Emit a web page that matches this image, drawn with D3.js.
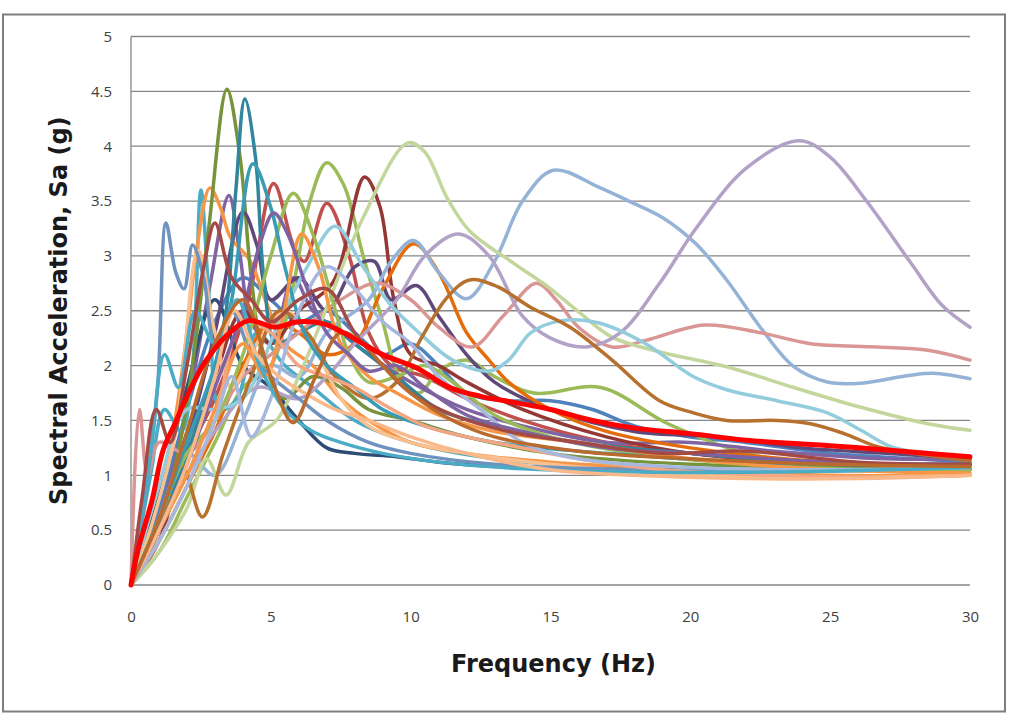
<!DOCTYPE html>
<html><head><meta charset="utf-8">
<script src="https://cdn.jsdelivr.net/npm/d3@7"></script>
<style>
html,body{margin:0;padding:0;background:#fff;}
svg{display:block;}
</style></head>
<body>
<svg id="chart" width="1011" height="722"></svg>
<script>
// ---- data (frequency Hz, Sa g) ----
const xTicks = [0,5,10,15,20,25,30];
const yTicks = [0,0.5,1,1.5,2,2.5,3,3.5,4,4.5,5];
const xTitle = "Frequency (Hz)";
const yTitle = "Spectral Acceleration, Sa (g)";

const sBlue = [[0,0],[1,0.7],[2,1.6],[3,2.4],[4,2.8],[5,2.6],[6,2.4],[7,2.5],[8,2.3],[9,2.1],[10,2.2],[11,2.0],[12,1.75],[13.5,1.68],[15,1.68],[16.5,1.6],[18,1.45],[20,1.35],[22,1.3],[25,1.2],[28,1.15],[30,1.12]];
const sRed = [[0,0],[1,0.6],[2,1.2],[3,1.7],[4.2,2.6],[5.1,3.66],[5.8,3.1],[6.2,2.95],[7.0,3.48],[7.8,3.0],[8.5,2.3],[9.3,2.0],[10.5,1.9],[12,1.7],[14,1.5],[17,1.3],[20,1.2],[25,1.1],[30,1.05]];
const sGreen = [[0,0],[1,0.3],[2,0.8],[3,1.3],[4,1.8],[5,2.0],[5.7,2.6],[6.4,3.5],[7.0,3.85],[7.6,3.65],[8.3,3.0],[9,2.4],[9.6,1.9],[10.3,1.75],[11,1.95],[12,2.05],[13,1.9],[14.4,1.75],[16.8,1.8],[19.2,1.47],[22,1.2],[25,1.1],[30,1.05]];
const sPurple = [[0,0],[1,0.6],[2,1.6],[2.8,2.7],[3.5,3.55],[3.9,3.0],[4.3,2.4],[5,2.2],[5.8,2.8],[6.5,2.5],[7.5,2.3],[8.5,2.1],[10,1.85],[12,1.6],[14,1.45],[17,1.3],[20,1.3],[23,1.22],[27,1.15],[30,1.15]];
const sAqua = [[0,0],[0.7,1.0],[1.2,1.6],[1.8,1.4],[2.2,2.0],[2.5,3.6],[2.8,2.6],[3.2,1.6],[3.8,1.7],[4.5,2.3],[5.5,2.0],[6.5,1.8],[8,1.5],[10,1.3],[13,1.15],[18,1.07],[25,1.05],[30,1.05]];
const sOrange = [[0,0],[0.8,0.7],[1.5,1.4],[2,2.3],[2.36,3.08],[2.82,3.62],[3.2,3.44],[3.55,3.17],[4.25,2.96],[4.8,2.6],[5.5,2.2],[6.5,2.0],[7.5,1.7],[8.5,1.5],[10,1.3],[12,1.2],[15,1.12],[20,1.05],[25,1.0],[30,1.0]];
const sDarkBlue = [[0,0],[1,0.8],[2,1.8],[3,2.6],[4,2.0],[5,1.8],[6,1.5],[7,1.25],[8,1.2],[9.5,1.17],[11,1.12],[14,1.07],[18,1.05],[22,1.05],[26,1.07],[30,1.1]];
const sDarkRed = [[0,0],[1,0.4],[2,1.3],[3,1.9],[4,2.5],[5,2.2],[6,2.5],[7.2,2.75],[8.35,3.72],[8.9,3.45],[9.4,2.6],[10,2.1],[11,2.0],[12,1.85],[14,1.6],[17,1.35],[20,1.2],[25,1.1],[30,1.05]];
const sDarkGreen = [[0,0],[0.8,0.4],[1.6,1.1],[2.2,2.0],[2.8,3.3],[3.43,4.52],[3.9,3.9],[4.3,2.8],[4.8,2.0],[5.5,1.7],[6.5,1.9],[7.5,1.8],[8.5,1.6],[10,1.5],[12,1.35],[15,1.2],[20,1.1],[25,1.08],[30,1.1]];
const sDarkPurple = [[0,0],[1,0.5],[2,1.3],[3,2.3],[4,3.4],[4.5,3.1],[5,2.6],[6,2.8],[7,2.5],[8,2.9],[8.7,2.95],[9.3,2.6],[10.2,2.73],[11,2.45],[12,2.1],[13,1.85],[15,1.6],[18,1.4],[21,1.35],[24,1.25],[27,1.2],[30,1.15]];
const sDarkTeal = [[0,0],[1,0.5],[2,1.2],[2.8,1.8],[3.4,2.5],[3.75,3.6],[4.07,4.43],[4.45,3.9],[4.75,2.8],[5.2,2.2],[6,2.3],[7,2.4],[8,2.2],[9.5,1.9],[11,1.6],[13,1.45],[16,1.3],[20,1.2],[25,1.1],[30,1.1]];
const sDarkOrange = [[0,0],[1,0.4],[2,0.9],[3,1.4],[4,2.0],[5,2.4],[6,2.3],[7,2.1],[8,2.2],[9,2.7],[10.1,3.11],[11,2.85],[12,2.3],[12.8,2.05],[13.5,1.85],[15,1.6],[17,1.4],[20,1.25],[25,1.12],[30,1.1]];
const sLightBlue = [[0,0],[1,0.6],[2,1.2],[3,1.0],[4,1.5],[5,2.0],[6,1.9],[7,2.3],[8.5,2.6],[9.3,2.95],[10.1,3.14],[11,2.85],[12,2.61],[13,2.95],[14,3.5],[15.1,3.78],[16.7,3.63],[17.8,3.5],[19,3.35],[20.2,3.11],[21.3,2.78],[22.5,2.35],[23.7,1.99],[24.9,1.85],[26.1,1.84],[27.8,1.91],[28.7,1.93],[30,1.88]];
const sPink = [[0,0],[0.3,1.6],[0.6,1.0],[1,1.3],[2,1.2],[3,1.5],[4,1.9],[5,2.1],[6,2.3],[7.5,2.6],[8.8,2.75],[10,2.6],[11,2.35],[12.2,2.17],[13.3,2.45],[14.5,2.75],[15.2,2.6],[16,2.35],[17.2,2.17],[18.4,2.23],[20.5,2.37],[22.5,2.3],[24.3,2.2],[26.7,2.17],[28.5,2.14],[30,2.05]];
const sLightGreen = [[0,0],[1,0.3],[2,0.7],[2.7,1.15],[3.4,0.82],[4.2,1.3],[5.2,1.5],[6.0,1.9],[6.8,2.4],[8.3,3.35],[9.9,4.03],[10.5,3.95],[11.3,3.53],[12.1,3.23],[13.7,2.93],[14.9,2.72],[16.05,2.48],[17.2,2.26],[19,2.12],[21.3,1.99],[23.7,1.8],[26.1,1.62],[28.5,1.47],[30,1.41]];
const sLightPurple = [[0,0],[1,0.5],[2,1.0],[3,1.4],[4.5,1.8],[6,1.7],[7,1.9],[8,2.2],[9.5,2.6],[10.5,3.0],[11.7,3.2],[12.8,3.0],[14,2.45],[15,2.25],[16.3,2.17],[17.5,2.3],[18.9,2.75],[20.2,3.25],[22,3.8],[23.9,4.05],[25,3.9],[26.3,3.5],[27.9,2.93],[29,2.55],[30,2.35]];
const sLightAqua = [[0,0],[1,0.9],[2,1.6],[3,1.6],[4,1.7],[5.3,2.4],[6.3,2.9],[7.3,3.27],[8.3,2.9],[9.3,2.55],[10.3,2.3],[11.5,2.05],[12.8,1.95],[13.5,2.05],[14.3,2.3],[15.4,2.41],[16.7,2.39],[18.4,2.2],[20.1,1.9],[21.3,1.78],[23.1,1.68],[24.9,1.57],[26.1,1.41],[27.2,1.26],[28.5,1.2],[30,1.17]];
const sSalmon = [[0,0],[0.8,0.6],[1.6,1.4],[2.4,3.05],[3,2.3],[3.6,1.8],[4.5,2.2],[5.5,2.5],[6.5,2.2],[7.5,1.7],[8.5,1.45],[10,1.3],[12,1.2],[15,1.1],[20,1.0],[25,0.98],[30,1.0]];
const sMidBlue = [[0,0],[0.5,0.8],[0.95,1.8],[1.25,3.3],[1.6,2.85],[1.9,2.7],[2.2,3.1],[2.6,2.8],[3.0,2.2],[3.6,2.5],[4.3,2.1],[5,1.9],[6,1.7],[7,1.5],[8.5,1.3],[10,1.2],[13,1.1],[18,1.05],[25,1.04],[30,1.05]];
const sBrown = [[0,0],[1,0.5],[1.8,1.1],[2.55,0.62],[3.3,1.2],[4.3,1.9],[5.3,2.5],[6.3,2.3],[7.3,1.9],[8.5,1.7],[9.5,1.85],[10.4,2.26],[11.3,2.62],[12.1,2.78],[13.1,2.72],[14.3,2.53],[15.7,2.35],[17.2,2.05],[18.9,1.68],[20.1,1.57],[21.3,1.5],[23.1,1.5],[24.3,1.47],[25.5,1.38],[26.7,1.26],[28,1.2],[30,1.13]];
const sGreen2 = [[0,0],[1,0.6],[2,1.2],[3,1.5],[4,2.1],[5,3.0],[5.8,3.57],[6.5,3.2],[7.2,2.6],[7.8,2.1],[8.5,1.85],[9.5,1.9],[10.5,2.0],[11.5,1.85],[13,1.55],[15,1.35],[18,1.2],[22,1.1],[26,1.05],[30,1.05]];
const sTeal2 = [[0,0],[1,0.6],[2,1.3],[3,2.0],[3.6,2.6],[4.36,3.84],[5.0,3.44],[5.5,2.9],[6.2,2.3],[7,2.0],[8,1.8],[9,1.6],[10.5,1.45],[13,1.3],[17,1.2],[22,1.12],[30,1.1]];
const sOrange2 = [[0,0],[1,0.5],[2,1.0],[3,1.6],[4,2.2],[4.8,1.9],[5.4,2.4],[6.1,3.2],[6.7,2.9],[7.5,2.2],[8.5,1.9],[9.5,1.75],[11,1.55],[13,1.4],[16,1.3],[20,1.15],[25,1.05],[30,1.02]];
const sSalmon2 = [[0,0],[1,0.4],[2,0.9],[3,1.5],[4,2.4],[5,2.3],[6,2.0],[7,1.9],[8,1.8],[9,1.65],[10.5,1.45],[12,1.35],[14,1.25],[16,1.15],[19,1.05],[23,1.0],[27,0.98],[30,1.0]];
const sLightBlue2 = [[0,0],[1,0.4],[2,0.9],[3,1.5],[3.6,1.9],[4.3,1.35],[5,1.7],[6,2.5],[7,2.9],[8,2.7],[9,2.4],[10,2.2],[11,1.9],[12.5,1.6],[14,1.3],[16,1.15],[20,1.07],[25,1.05],[30,1.07]];
const sViolet = [[0,0],[1,0.5],[2,1.1],[3,1.8],[4,2.5],[4.6,3.1],[5.1,3.39],[5.6,3.2],[6.3,2.7],[7,2.3],[7.8,2.1],[8.5,1.95],[9.5,2.0],[10.5,1.8],[12,1.55],[14,1.4],[17,1.25],[20,1.2],[25,1.12],[30,1.1]];
const sTealLow = [[0,0],[0.7,1.2],[1.2,2.1],[1.7,1.8],[2.3,2.5],[3.0,2.2],[3.8,2.6],[4.6,2.0],[5.5,1.6],[6.5,1.4],[7.5,1.3],[9,1.2],[11,1.12],[14,1.06],[18,1.03],[23,1.03],[27,1.05],[30,1.07]];
const sPeachLow = [[0,0],[1,0.5],[2,1.1],[3,1.9],[3.7,2.5],[4.5,2.1],[5.3,1.9],[6.2,1.75],[7.3,1.6],[8.5,1.5],[10,1.35],[12,1.2],[15,1.05],[18,1.0],[22,0.97],[26,0.97],[30,1.0]];
const sMaroon = [[0,0],[0.4,0.8],[0.9,1.6],[1.4,1.3],[2,2.0],[2.6,2.9],[3,3.3],[3.6,2.8],[4.3,2.6],[5,2.4],[6,2.6],[7,2.7],[8,2.3],[9,2.0],[10,1.75],[11.5,1.55],[13.5,1.4],[16,1.3],[19,1.2],[22,1.22],[26,1.12],[30,1.1]];
const sBrown2 = [[0,0],[1,0.6],[2,1.4],[3,2.2],[4,2.6],[5,1.9],[5.8,1.48],[6.6,1.9],[7.5,2.3],[8.3,2.2],[9,2.0],[10,1.75],[11.5,1.5],[13,1.35],[16,1.22],[20,1.15],[25,1.1],[30,1.08]];
const sMean = [[0,0],[0.25,0.32],[0.75,0.77],[1.15,1.23],[1.57,1.47],[1.93,1.68],[2.54,1.99],[2.9,2.12],[3.36,2.26],[4.2,2.41],[5.15,2.35],[6.0,2.4],[6.9,2.38],[7.6,2.3],[9.0,2.1],[10.2,1.98],[11.4,1.8],[12.5,1.72],[13.8,1.66],[15.0,1.6],[16.5,1.5],[18,1.43],[20,1.38],[22,1.32],[25,1.27],[28,1.21],[30,1.17]];

const seriesList = [sBlue,sRed,sGreen,sPurple,sAqua,sOrange,sDarkBlue,sDarkRed,sDarkGreen,sDarkPurple,sDarkTeal,sDarkOrange,sLightBlue,sPink,sLightGreen,sLightPurple,sLightAqua,sSalmon,sMidBlue,sBrown,sGreen2,sTeal2,sOrange2,sSalmon2,sLightBlue2,sViolet,sTealLow,sPeachLow,sMaroon,sBrown2];
const seriesColors = ["#4F81BD","#C0504D","#9BBB59","#8064A2","#4BACC6","#F79646","#2C4D75","#953735","#77933C","#5F497A","#31859C","#E46C0A","#95B3D7","#D99694","#C3D69B","#B3A2C7","#93CDDD","#FAC090","#7092BE","#B7712F","#9BBB59","#3A9BB5","#F79646","#F4A582","#A6B8DD","#7E62A1","#4BACC6","#FAB98A","#A34A47","#B96A2C"];

// ---- layout ----
const svg = d3.select("#chart");
const L = 131, R = 970, T = 36.5, B = 585;
const x = d3.scaleLinear().domain([0,30]).range([L,R]);
const y = d3.scaleLinear().domain([0,5]).range([B,T]);
const tickFont = "'Open Sans','Noto Sans',sans-serif";
const titleFont = "'DejaVu Sans','Noto Sans',sans-serif";

// frame
svg.append("rect").attr("x",3).attr("y",14.5).attr("width",1002).attr("height",697)
  .attr("fill","#fff").attr("stroke","#7f7f7f").attr("stroke-width",2);

// gridlines
svg.append("g").selectAll("line").data(yTicks).join("line")
  .attr("x1",L).attr("x2",R).attr("y1",d=>y(d)).attr("y2",d=>y(d))
  .attr("stroke","#868686").attr("stroke-width",1.3);
// y axis line
svg.append("line").attr("x1",L).attr("x2",L).attr("y1",T).attr("y2",B)
  .attr("stroke","#868686").attr("stroke-width",1.3);

// tick labels via axes
const yAxis = d3.axisLeft(y).tickValues(yTicks).tickSize(0).tickPadding(19).tickFormat(d3.format("~g"));
const gy = svg.append("g").attr("transform",`translate(${L},0)`).call(yAxis);
gy.select(".domain").remove();
gy.selectAll("text").style("font-size","15px").style("fill","#404040").style("font-family",tickFont);

const xAxis = d3.axisBottom(x).tickValues(xTicks).tickSize(0).tickPadding(26).tickFormat(d3.format("~g"));
const gx = svg.append("g").attr("transform",`translate(0,${B})`).call(xAxis);
gx.select(".domain").remove();
gx.selectAll("text").style("font-size","15px").style("fill","#404040").style("font-family",tickFont);

// lines
const line = d3.line().x(d=>x(d[0])).y(d=>y(d[1])).curve(d3.curveCatmullRom.alpha(0.5));
const gl = svg.append("g");
seriesList.forEach((s,i)=>{
  gl.append("path").attr("d",line(s)).attr("fill","none")
    .attr("stroke",seriesColors[i]).attr("stroke-width",3.5)
    .attr("stroke-linejoin","round").attr("stroke-linecap","round");
});
gl.append("path").attr("d",line(sMean)).attr("fill","none")
  .attr("stroke","#FF0000").attr("stroke-width",5)
  .attr("stroke-linejoin","round").attr("stroke-linecap","round");

// titles
svg.append("text").attr("x",(L+R)/2 + 3).attr("y",672).attr("text-anchor","middle")
  .style("font-family",titleFont).style("font-size","24px").style("font-weight","bold")
  .style("fill","#1a1a1a").text(xTitle);
svg.append("text").attr("transform",`translate(67,${(T+B)/2}) rotate(-90)`).attr("text-anchor","middle")
  .style("font-family",titleFont).style("font-size","24px").style("font-weight","bold")
  .style("fill","#1a1a1a").text(yTitle);
</script>
</body></html>
